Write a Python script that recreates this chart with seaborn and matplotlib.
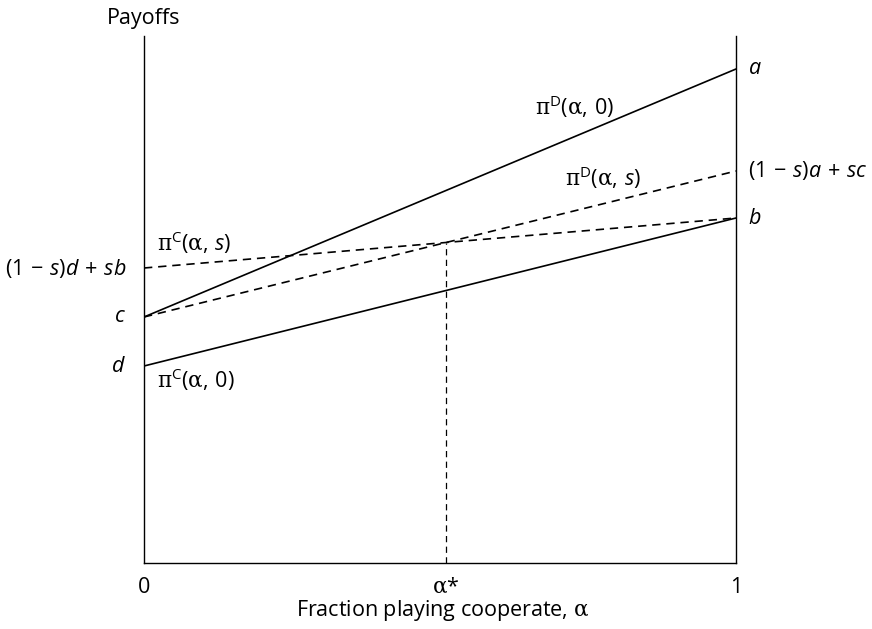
import numpy as np
import pandas as pd
import seaborn as sns
import matplotlib as mpl
import matplotlib.pyplot as plt

# ---- data (payoff values) ----
alpha_pts = [0.0, 1.0]
piD_0 = [2.46, 4.94]   # c -> a
piC_0 = [1.97, 3.45]   # d -> b
piD_s = [2.46, 3.92]   # c -> (1-s)a+sc
piC_s = [2.95, 3.45]   # (1-s)d+sb -> b
alpha_star = 0.51
y_top = 5.27

left_labels = [r"$(1\,-\,s)d\,+\,sb$", r"$c$", r"$d$"]
left_vals = [piC_s[0], piD_0[0], piC_0[0]]
right_labels = [r"$a$", r"$(1\,-\,s)a\,+\,sc$", r"$b$"]
right_vals = [piD_0[1], piD_s[1], piC_0[1]]
xtick_vals = [0.0, alpha_star, 1.0]
xtick_labels = ["0", r"$\mathbf{\alpha}$*", "1"]

sns.set_theme(style="white")
plt.rcParams["font.family"] = ["Open Sans", "DejaVu Sans"]
plt.rcParams["mathtext.fontset"] = "custom"
plt.rcParams["mathtext.rm"] = "Open Sans"
plt.rcParams["mathtext.it"] = "Open Sans:italic"
plt.rcParams["mathtext.bf"] = "DejaVu Serif"
plt.rcParams["text.color"] = "black"
plt.rcParams["xtick.color"] = "black"
plt.rcParams["axes.labelcolor"] = "black"

FS = 15.5

fig = plt.figure(figsize=(8.72, 6.29), dpi=100)
ax = fig.add_axes([144 / 872, 1 - 563 / 629, 592 / 872, 527 / 629])

lines = {
    "piD0": (piD_0, "-"),
    "piC0": (piC_0, "-"),
    "piDs": (piD_s, (0, (5, 3.5))),
    "piCs": (piC_s, (0, (5, 3.5))),
}
for name, (vals, ls) in lines.items():
    df = pd.DataFrame({"alpha": alpha_pts, "payoff": vals})
    sns.lineplot(data=df, x="alpha", y="payoff", ax=ax, color="black",
                 linewidth=1.2, linestyle=ls)

y_star = piC_s[0] + (piC_s[1] - piC_s[0]) * alpha_star
ax.plot([alpha_star, alpha_star], [0, y_star], color="black", lw=0.9,
        linestyle=(0, (5, 3.5)))

ax.set_xlim(0, 1)
ax.set_ylim(0, y_top)
for side in ["left", "right", "bottom"]:
    ax.spines[side].set_visible(True)
    ax.spines[side].set_color("black")
    ax.spines[side].set_linewidth(1.0)
ax.spines["top"].set_visible(False)

ax.set_xticks(xtick_vals)
ax.set_xticklabels(xtick_labels, fontsize=FS)
ax.tick_params(axis="x", length=0, pad=10)
ax.set_yticks([])
ax.set_xlabel("Fraction playing cooperate, " + r"$\mathbf{\alpha}$", fontsize=FS)
ax.xaxis.set_label_coords(0.505, -0.066)
ax.set_ylabel("")

ax.text(0, 1.034, "Payoffs", transform=ax.transAxes, ha="center", va="center",
        fontsize=FS)

for lab, v in zip(left_labels, left_vals):
    ax.text(-0.03, v, lab, ha="right", va="center", fontsize=FS, clip_on=False)
for lab, v in zip(right_labels, right_vals):
    ax.text(1.02, v, lab, ha="left", va="center", fontsize=FS, clip_on=False)

curve_labels = [
    (0.660, 4.56, r"$\mathbf{\pi}^{\mathrm{D}}(\mathbf{\alpha},\,0)$"),
    (0.711, 3.85, r"$\mathbf{\pi}^{\mathrm{D}}(\mathbf{\alpha},\,s)$"),
    (0.022, 3.20, r"$\mathbf{\pi}^{\mathrm{C}}(\mathbf{\alpha},\,s)$"),
    (0.022, 1.83, r"$\mathbf{\pi}^{\mathrm{C}}(\mathbf{\alpha},\,0)$"),
]
for x, y, lab in curve_labels:
    ax.text(x, y, lab, ha="left", va="center", fontsize=FS)

fig.savefig("out.png", dpi=100)
